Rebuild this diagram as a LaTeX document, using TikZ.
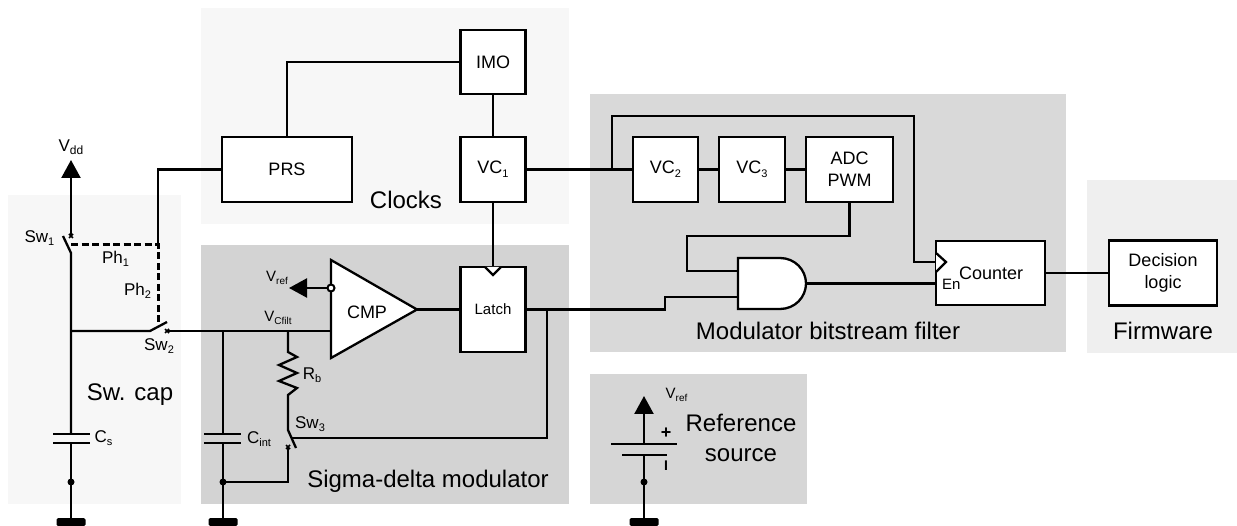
\documentclass[tikz,border=0pt]{standalone}
\usepackage{fontspec}
\setmainfont{Liberation Sans}
\usetikzlibrary{arrows.meta, shapes.misc}

\definecolor{clockgray}{HTML}{F7F7F7}
\definecolor{sdgray}{HTML}{D3D3D3}
\definecolor{filtgray}{HTML}{D9D9D9}
\definecolor{fwgray}{HTML}{EFEFEF}
\definecolor{refgray}{HTML}{D6D6D6}

\newcommand{\lowtext}[2][11]{\raisebox{-.2em}{\fontsize{#1}{#1}\selectfont #2}}

\tikzset{
  wire/.style={line width=2.3pt},
  phase/.style={line width=3pt, dash pattern=on 7pt off 3.5pt},
  block/.style={draw, fill=white, line width=2.3pt, inner sep=0pt, outer sep=0pt, align=center, font=\fontsize{18}{22}\selectfont},
  biglabel/.style={inner sep=0pt, align=center, font=\fontsize{24}{30}\selectfont},
  midlabel/.style={inner sep=0pt, font=\fontsize{18}{22}\selectfont},
  swlabel/.style={inner sep=0pt, font=\fontsize{17}{20}\selectfont},
  tinylabel/.style={inner sep=0pt, font=\fontsize{15}{18}\selectfont},
  contact/.style={cross out, draw, line width=1.6pt, minimum size=4pt, inner sep=0pt, outer sep=0pt},
  jdot/.style={circle, fill=black, minimum size=7pt, inner sep=0pt},
  gnd/.style={rectangle, fill=black, rounded corners=1.5pt, minimum width=29pt, minimum height=8pt, inner sep=0pt, outer sep=0pt},
  bigtip/.style={-{Triangle[length=18pt,width=19pt]}, line width=2.3pt}
}

\begin{document}
\begin{tikzpicture}[x=1pt,y=-1pt]
\useasboundingbox (0,0) rectangle (1237,526);

% background panels
\fill[clockgray] (8,195) rectangle (181,504);
\fill[clockgray] (201,8) rectangle (569,224);
\fill[sdgray] (201,245) rectangle (569,504);
\fill[filtgray] (590,94) rectangle (1066,352);
\fill[fwgray] (1087,180) rectangle (1237,353);
\fill[refgray] (590,374) rectangle (807,504);

\node[biglabel] (swcaplabel) at (130,395) {Sw. cap};
\node[biglabel] (clockslabel) at (406,200) {Clocks};
\node[biglabel] (sdlabel) at (428,481) {Sigma-delta modulator};
\node[biglabel] (filtlabel) at (828,331) {Modulator bitstream filter};
\node[biglabel] (fwlabel) at (1163,331) {Firmware};
\node[biglabel] (reflabel) at (741,438) {Reference\\source};

%%%%%%%%%%%%%%%%%%%%%%%%%%%%%%%%%%%%%%%%%
% blocks
\node[block, minimum width=65pt, minimum height=64pt] (imo) at (493,62) {IMO};
\node[block, minimum width=130pt, minimum height=65pt] (prs) at (287,169.5) {PRS};
\node[block, minimum width=65pt, minimum height=65pt] (vcone) at (493,169.5) {VC\lowtext{1}};
\node[block, minimum width=65pt, minimum height=85pt, font=\fontsize{15}{18}\selectfont] (latch) at (493,309.5) {Latch};
\node[block, minimum width=65pt, minimum height=65pt] (vctwo) at (665.5,169.5) {VC\lowtext{2}};
\node[block, minimum width=66pt, minimum height=65pt] (vcthree) at (752,169.5) {VC\lowtext{3}};
\node[block, minimum width=87pt, minimum height=65pt] (adc) at (849.5,169.5) {ADC\\PWM};
\node[block, minimum width=109pt, minimum height=64pt] (counter) at (990.5,273) {};
\node[block, minimum width=108pt, minimum height=65pt] (decision) at (1163,273) {Decision\\logic};

\node[midlabel, anchor=west] (counterlabel) at (959,273) {Counter};
\node[tinylabel, anchor=west] (enlabel) at (942,284) {En};

% comparator
\draw[block] (331,260)--(417,309.5)--(331,358)--cycle;
\node[midlabel] (cmplabel) at (367,312) {CMP};
\coordinate (cmpout) at (417,309.5);
\coordinate (cmpin) at (331,331);
\node[circle, draw, fill=white, line width=2pt, minimum size=7pt, inner sep=0pt, outer sep=0pt] (cmpref) at (331,288) {};

% and gate
\draw[block] (738,258)--(780,258) .. controls (795,258) and (806,270) .. (806,283.5) .. controls (806,297) and (795,309) .. (780,309)--(738,309)--cycle;
\coordinate (andout) at (806,283.5);
\coordinate (andtop) at (738,271);
\coordinate (andbot) at (738,297);

%%%%%%%%%%%%%%%%%%%%%%%%%%%%%%%%%%%%%%%%%
% digital connections
\draw[wire] (imo.west) -| (prs.north);
\draw[wire] (imo.south)--(vcone.north);
\draw[wire] (vcone.east)--(vctwo.west);
\draw[wire] (vctwo.east)--(vcthree.west);
\draw[wire] (vcthree.east)--(adc.west);
\draw[wire] (vcone.south)--(latch.north);
\draw[wire] (cmpout)--(latch.west);
\draw[wire] (adc.south)--(849.5,236)--(687,236)--(687,271)--(andtop);
\draw[wire] (latch.east)--(665,309.5)--(665,297)--(andbot);
\draw[wire] (andout)--(counter.west |- andout);
\draw[wire] (counter.east)--(decision.west);

\coordinate (clktap) at (612,169.5);
\coordinate (clkin) at (936,262);
\draw[wire] (clktap)--(612,116)--(914,116)--(914,262)--(clkin);
\draw[wire, fill=white] (936,253)--(946,262)--(936,272);
\draw[wire, fill=white] (485,267)--(493,275)--(501,267);

%%%%%%%%%%%%%%%%%%%%%%%%%%%%%%%%%%%%%%%%%
% switched capacitor
\coordinate (vdd) at (71,160);
\node[contact] (swonetop) at (71,236) {};
\coordinate (swonebot) at (71,253);
\coordinate (swonelever) at (63,236);
\coordinate (capnode) at (71,331);
\coordinate (swtwoleft) at (150,331);
\coordinate (swtwolever) at (167,322);
\node[contact] (swtworight) at (167,331) {};
\coordinate (cstop) at (71,434);
\coordinate (csbot) at (71,443);
\node[jdot] (csdot) at (71,482) {};
\node[gnd] (gndone) at (71,522) {};

\draw[bigtip] (swonetop.center)--(vdd);
\draw[wire] (swonelever)--(swonebot)--(cstop);
\draw[wire] (csbot)--(gndone.north);
\draw[wire] (53,434)--(90,434);
\draw[wire] (53,443)--(90,443);
\draw[wire] (capnode)--(swtwoleft)--(swtwolever);
\draw[wire] (prs.west)--(158,169.5)--(158,245);
\draw[phase] (71,245)--(158,245)--(158,325);

\node[tinylabel, font=\fontsize{17}{20}\selectfont] (vddlabel) at (71,147) {V\lowtext[12]{dd}};
\node[swlabel] (swonelabel) at (39.5,238) {Sw\lowtext{1}};
\node[swlabel] (phonelabel) at (115.5,259) {Ph\lowtext{1}};
\node[swlabel] (phtwolabel) at (137.5,291) {Ph\lowtext{2}};
\node[swlabel] (swtwolabel) at (159,346) {Sw\lowtext{2}};
\node[swlabel] (cslabel) at (103.5,438) {C\lowtext{s}};

%%%%%%%%%%%%%%%%%%%%%%%%%%%%%%%%%%%%%%%%%
% sigma-delta input
\coordinate (cinttop) at (223,331);
\coordinate (rbtop) at (288,331);
\node[jdot] (cintdot) at (223,482) {};
\node[gnd] (gndtwo) at (223,522) {};
\node[contact] (swthreebot) at (288,447) {};
\coordinate (swthreetop) at (288,430);
\coordinate (swthreelever) at (296,448);

\draw[wire] (swtworight.center)--(cmpin);
\draw[wire] (cinttop)--(223,434);
\draw[wire] (223,443)--(gndtwo.north);
\draw[wire] (204,434)--(241,434);
\draw[wire] (204,443)--(241,443);
\draw[wire] (cintdot.center)--(288,482)--(swthreebot.center);
\draw[wire] (rbtop)--(288,352)--(297,357)--(279,365)--(297,373)--(279,381)--(297,388)--(288,395)--(swthreetop)--(swthreelever);
\draw[wire] (547,309.5)--(547,438)--(292,438);
\draw[bigtip] (cmpref.west)--(289,288);

\node[tinylabel] (vreflabel) at (277,278) {V\lowtext[10]{ref}};
\node[tinylabel] (vcfiltlabel) at (278,318) {V\lowtext[10]{Cfilt}};
\node[swlabel] (rblabel) at (312,375) {R\lowtext{b}};
\node[swlabel] (swthreelabel) at (310,424) {Sw\lowtext{3}};
\node[swlabel] (cintlabel) at (259,439) {C\lowtext{int}};

%%%%%%%%%%%%%%%%%%%%%%%%%%%%%%%%%%%%%%%%%
% reference source
\coordinate (refplus) at (644,444);
\coordinate (refminus) at (644,455);
\node[jdot] (refdot) at (644,482) {};
\node[gnd] (gndthree) at (644,522) {};

\draw[bigtip] (refplus)--(644,396);
\draw[wire] (611,444)--(677,444);
\draw[wire] (622,455)--(667,455);
\draw[wire] (refminus)--(gndthree.north);

\node[tinylabel] (vsrclabel) at (676.5,395) {V\lowtext[10]{ref}};
\node[midlabel, font=\bfseries\fontsize{18}{22}\selectfont] (pluslabel) at (666,433) {+};
\node[midlabel, font=\bfseries\fontsize{14}{18}\selectfont] (minuslabel) at (666,466) {I};

\end{tikzpicture}
\end{document}
